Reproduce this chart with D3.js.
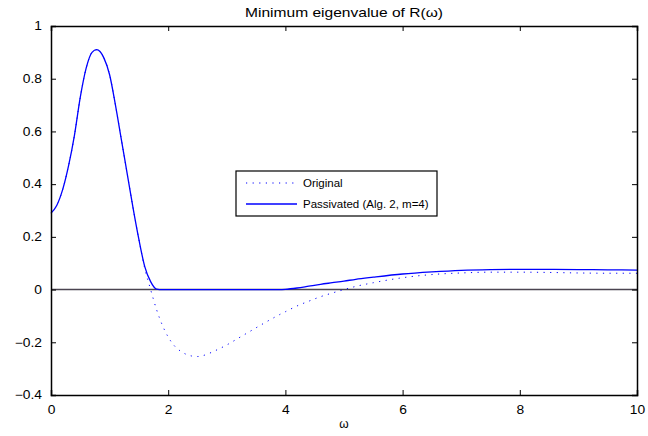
<!DOCTYPE html>
<html>
<head>
<meta charset="utf-8">
<script src="https://cdn.jsdelivr.net/npm/d3@7"></script>
<style>
  body { margin: 0; background: #fff; }
  svg text { font-family: "Liberation Sans", Arial, Helvetica, sans-serif; fill: #000; }
</style>
</head>
<body>
<svg id="chart" width="648" height="436"></svg>
<script>
const omega = [0, 0.1, 0.2, 0.3, 0.4, 0.5, 0.6, 0.7, 0.78, 0.9, 1.0, 1.1, 1.2, 1.3, 1.4, 1.5, 1.6, 1.7, 1.8, 1.9, 2.0, 2.1, 2.2, 2.3, 2.4, 2.5, 2.6, 2.8, 3.0, 3.2, 3.4, 3.6, 3.8, 3.9, 4.0, 4.2, 4.4, 4.6, 4.8, 5.0, 5.2, 5.5, 6.0, 6.5, 7.0, 7.5, 8.0, 8.5, 9.0, 9.5, 10];
const passivated = [0.29, 0.32, 0.38, 0.47, 0.585, 0.73, 0.84, 0.9, 0.91, 0.88, 0.815, 0.70, 0.57, 0.44, 0.31, 0.19, 0.087, 0.03, 0.002, 0, 0, 0, 0, 0, 0, 0, 0, 0, 0, 0, 0, 0, 0, 0, 0.001, 0.006, 0.013, 0.02, 0.026, 0.032, 0.039, 0.047, 0.059, 0.067, 0.073, 0.076, 0.077, 0.077, 0.076, 0.075, 0.074];
const original = [0.29, 0.32, 0.38, 0.47, 0.585, 0.73, 0.84, 0.9, 0.91, 0.88, 0.815, 0.70, 0.57, 0.44, 0.31, 0.19, 0.08, 0.0, -0.075, -0.135, -0.18, -0.212, -0.232, -0.245, -0.252, -0.254, -0.25, -0.232, -0.21, -0.184, -0.158, -0.132, -0.107, -0.095, -0.084, -0.062, -0.044, -0.027, -0.013, 0.0, 0.012, 0.026, 0.045, 0.057, 0.063, 0.066, 0.066, 0.065, 0.063, 0.062, 0.062];
const xTicks = [0, 2, 4, 6, 8, 10];
const yTicks = [-0.4, -0.2, 0, 0.2, 0.4, 0.6, 0.8, 1];
const titleText = "Minimum eigenvalue of R(\u03c9)";
const xLabel = "\u03c9";
const legendLabels = ["Original", "Passivated (Alg. 2, m=4)"];

const svg = d3.select("#chart");
const L = 51, R = 637, T = 26, B = 395;
const x = d3.scaleLinear().domain([0, 10]).range([L, R]);
const y = d3.scaleLinear().domain([-0.4, 1]).range([B, T]);
const fmt = v => (v < 0 ? "\u2212" : "") + String(Math.abs(+v.toFixed(1)));
const sx = 1.15;

// zero line
svg.append("line").attr("x1", x(0)).attr("x2", x(10)).attr("y1", y(0)).attr("y2", y(0))
  .attr("stroke", "#4a4450").attr("stroke-width", 1.6);

const line = d3.line().x((d, i) => x(omega[i])).y(d => y(d)).curve(d3.curveMonotoneX);

svg.append("path").attr("d", line(original)).attr("fill", "none")
  .attr("stroke", "#0000ff").attr("stroke-width", 1).attr("stroke-dasharray", "1.2,5.4");
svg.append("path").attr("d", line(passivated)).attr("fill", "none")
  .attr("stroke", "#0000ff").attr("stroke-width", 1.3);

// axes (box with inward ticks)
const tl = 5;
const gx = svg.append("g").attr("transform", `translate(0,${B})`)
  .call(d3.axisBottom(x).tickValues(xTicks).tickFormat(d => String(d)).tickSize(-tl).tickPadding(10));
const gxt = svg.append("g").attr("transform", `translate(0,${T})`)
  .call(d3.axisTop(x).tickValues(xTicks).tickFormat("").tickSize(-tl));
const gy = svg.append("g").attr("transform", `translate(${L},0)`)
  .call(d3.axisLeft(y).tickValues(yTicks).tickFormat(fmt).tickSize(-tl).tickPadding(9));
const gyr = svg.append("g").attr("transform", `translate(${R},0)`)
  .call(d3.axisRight(y).tickValues(yTicks).tickFormat("").tickSize(-tl));
[gx, gxt, gy, gyr].forEach(g => {
  g.select(".domain").attr("stroke", "#000").attr("stroke-width", 1.5);
  g.selectAll(".tick line").attr("stroke", "#000").attr("stroke-width", 1);
  g.selectAll("text").attr("font-size", 12).attr("font-family", "Liberation Sans, Arial, sans-serif");
});
gx.selectAll(".tick text").attr("transform", `scale(${sx},1)`);
gy.selectAll(".tick text").attr("transform", `translate(-9,0) scale(${sx},1) translate(9,0)`);
gx.selectAll(".tick").filter(d => d === 0 || d === 10).select("line").remove();
gxt.selectAll(".tick").filter(d => d === 0 || d === 10).select("line").remove();
gy.selectAll(".tick").filter(d => d === -0.4 || d === 1).select("line").remove();
gyr.selectAll(".tick").filter(d => d === -0.4 || d === 1).select("line").remove();

// title and label
svg.append("text").attr("x", (L + R) / 2).attr("y", 17).attr("text-anchor", "middle")
  .attr("font-size", 13).attr("textLength", 198).attr("lengthAdjust", "spacingAndGlyphs")
  .text(titleText);
svg.append("text").attr("x", (L + R) / 2).attr("y", 428).attr("text-anchor", "middle")
  .attr("font-size", 12).text(xLabel);

// legend
const lg = svg.append("g");
lg.append("rect").attr("x", 236).attr("y", 171).attr("width", 201).attr("height", 45)
  .attr("fill", "#fff").attr("stroke", "#000").attr("stroke-width", 1.2);
const rows = [183, 204];
legendLabels.forEach((lab, i) => {
  lg.append("line").attr("x1", 246).attr("x2", 297).attr("y1", rows[i]).attr("y2", rows[i])
    .attr("stroke", "#0000ff").attr("stroke-width", i === 0 ? 1 : 1.3)
    .attr("stroke-dasharray", i === 0 ? "1.2,5.4" : null);
  lg.append("text").attr("x", 303).attr("y", rows[i] + 4).attr("font-size", 11.5).text(lab);
});
</script>
</body>
</html>
